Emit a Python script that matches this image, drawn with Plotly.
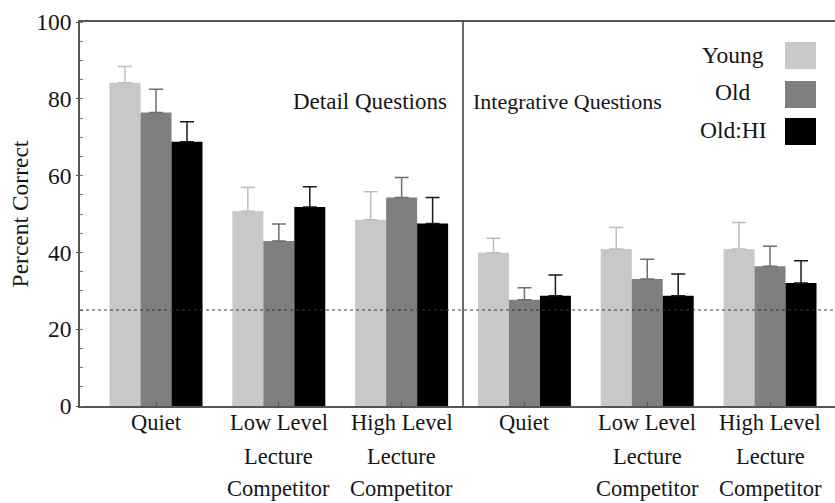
import plotly.graph_objects as go

# Conditions (two question types x three listening conditions)
label_lines = [
    ["Quiet"],
    ["Low Level", "Lecture", "Competitor"],
    ["High Level", "Lecture", "Competitor"],
    ["Quiet"],
    ["Low Level", "Lecture", "Competitor"],
    ["High Level", "Lecture", "Competitor"],
]

groups = ["Young", "Old", "Old:HI"]

young = [84.2, 50.7, 48.5, 39.9, 40.9, 40.9]
young_err = [4.2, 6.2, 7.3, 3.8, 5.6, 6.9]

old = [76.4, 43.0, 54.3, 27.7, 33.1, 36.4]
old_err = [6.1, 4.4, 5.2, 3.1, 5.1, 5.2]

old_hi = [68.8, 51.8, 47.5, 28.7, 28.7, 32.0]
old_hi_err = [5.2, 5.3, 6.8, 5.4, 5.7, 5.8]

chance_level = 25
panel_titles = ["Detail Questions", "Integrative Questions"]

FONT = "'Liberation Serif', 'Times New Roman', serif"
FS = 23.5
TXT = "#151515"
fill_colors = ["#c8c8c8", "#7f7f7f", "#000000"]
err_colors = ["#bdbdbd", "#6e6e6e", "#1a1a1a"]

W, H = 835, 503
ML, MR, MT, MB = 80, 0, 22, 97
PW, PH = W - ML - MR, H - MT - MB


def px_x(p):
    return (p - ML) / PW


def px_y(p):
    return (H - MB - p) / PH


x_idx = list(range(len(label_lines)))
fig = go.Figure()
for name, vals, errs, fc, ec in zip(groups, [young, old, old_hi],
                                    [young_err, old_err, old_hi_err],
                                    fill_colors, err_colors):
    fig.add_trace(go.Bar(
        x=x_idx, y=vals, name=name,
        marker=dict(color=fc, line=dict(width=0)),
        error_y=dict(type="data", symmetric=False, array=errs,
                     arrayminus=[0] * len(errs), color=ec,
                     thickness=1.5, width=7),
        showlegend=False,
    ))

# Chance level
fig.add_shape(type="line", xref="paper", yref="y", x0=0, x1=1,
              y0=chance_level, y1=chance_level,
              line=dict(color="#3a3a3a", width=1.2, dash="3px,3px"))

# Divider between the two question types
fig.add_shape(type="line", xref="x", yref="paper", x0=2.5, x1=2.5,
              y0=0, y1=1, line=dict(color="#6a6a6a", width=2))

annotations = []
row_shifts = [-16, -50, -82]
for i, lines in enumerate(label_lines):
    for j, txt in enumerate(lines):
        annotations.append(dict(
            x=i, y=0, xref="x", yref="paper", text=txt, showarrow=False,
            xanchor="center", yanchor="middle", yshift=row_shifts[j],
            font=dict(family=FONT, size=22.5, color=TXT)))

# Panel titles on either side of the divider
annotations.append(dict(
    x=px_x(449), y=79.4, xref="paper", yref="y", text=panel_titles[0],
    showarrow=False, xanchor="right", yanchor="middle",
    font=dict(family=FONT, size=23, color=TXT)))
annotations.append(dict(
    x=px_x(471), y=79.4, xref="paper", yref="y", text=panel_titles[1],
    showarrow=False, xanchor="left", yanchor="middle",
    font=dict(family=FONT, size=22, color=TXT)))

# Legend drawn as labelled swatches
legend_rows = [(42, 69, 55), (81, 108, 92), (118, 145, 130)]
for name, fc, (top, bot, yc) in zip(groups, fill_colors, legend_rows):
    fig.add_shape(type="rect", xref="paper", yref="paper",
                  x0=px_x(785), x1=px_x(816), y0=px_y(bot), y1=px_y(top),
                  fillcolor=fc, line=dict(width=0))
    annotations.append(dict(
        x=px_x(733), y=px_y(yc), xref="paper", yref="paper", text=name,
        showarrow=False, xanchor="center", yanchor="middle",
        font=dict(family=FONT, size=FS, color=TXT)))

fig.update_layout(
    width=W, height=H,
    margin=dict(l=ML, r=MR, t=MT, b=MB, pad=0),
    paper_bgcolor="white", plot_bgcolor="white",
    barmode="group", bargap=0.243, bargroupgap=0,
    font=dict(family=FONT, size=FS, color=TXT),
    annotations=annotations,
    xaxis=dict(
        range=[-0.619, 5.529], tickvals=x_idx, ticktext=[""] * len(x_idx),
        ticks="inside", ticklen=4, tickcolor="#555555",
        showline=True, linecolor="#555555", linewidth=1.5, mirror=True,
        showgrid=False, zeroline=False, fixedrange=True,
    ),
    yaxis=dict(
        range=[0, 100], tickvals=[0, 20, 40, 60, 80, 100],
        ticks="outside", ticklen=2, tickcolor="#555555",
        minor=dict(dtick=5, ticks="inside", ticklen=3, tickcolor="#777777"),
        showline=True, linecolor="#555555", linewidth=1.5, mirror=False,
        showgrid=False, zeroline=False,
        tickfont=dict(family=FONT, size=FS, color=TXT),
        title=dict(text="Percent Correct", standoff=1,
                   font=dict(family=FONT, size=23.5, color=TXT)),
    ),
)

fig.write_html("out.html")
